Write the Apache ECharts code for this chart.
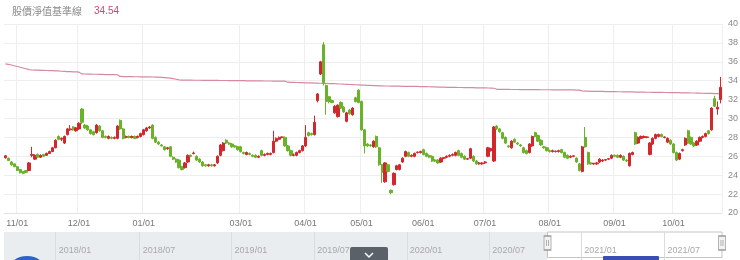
<!DOCTYPE html>
<html><head><meta charset="utf-8">
<script src="https://cdn.jsdelivr.net/npm/echarts@6/dist/echarts.min.js"></script>
<style>html,body{margin:0;padding:0;background:#fff}#c{width:740px;height:260px}</style>
</head><body><div id="c"></div>
<script>
const titleText = '股價淨值基準線';
const titleValue = '34.54';
const mainRange = ['2020-10-27', '2021-10-26'];
const sliderRange = ['2017-09-18', '2021-10-26'];
const closedRanges = [
  ['2017-10-04','2017-10-04'], ['2017-10-09','2017-10-10'],
  ['2018-01-01','2018-01-01'], ['2018-02-12','2018-02-20'], ['2018-02-28','2018-02-28'],
  ['2018-04-04','2018-04-06'], ['2018-06-18','2018-06-18'], ['2018-09-24','2018-09-24'],
  ['2018-10-10','2018-10-10'], ['2018-12-31','2018-12-31'],
  ['2019-01-01','2019-01-01'], ['2019-01-31','2019-02-08'], ['2019-02-28','2019-03-01'],
  ['2019-04-04','2019-04-05'], ['2019-05-01','2019-05-01'], ['2019-06-07','2019-06-07'],
  ['2019-09-13','2019-09-13'], ['2019-10-10','2019-10-11'],
  ['2020-01-01','2020-01-01'], ['2020-01-20','2020-01-29'], ['2020-02-28','2020-02-28'],
  ['2020-04-02','2020-04-03'], ['2020-05-01','2020-05-01'], ['2020-06-25','2020-06-26'],
  ['2020-10-01','2020-10-02'], ['2020-10-09','2020-10-09'],
  ['2020-12-31','2020-12-31'], ['2021-01-01','2021-01-01'], ['2021-02-08','2021-02-16'],
  ['2021-03-01','2021-03-01'], ['2021-04-02','2021-04-05'], ['2021-04-30','2021-04-30'],
  ['2021-06-14','2021-06-14'], ['2021-09-20','2021-09-21'], ['2021-10-11','2021-10-11']
];
const tickMonths = ['11','12','01','03','04','05','06','07','08','09','10'];
const sliderTickMonths = ['01','07'];
const yTicks = {min: 20, max: 40, step: 2};

const opens = [
25.85,25.8,25.4,25.2,24.9,24.6,24.4,24.5,24.5,26.1,
25.7,26.2,25.9,26.2,26.1,26.3,26.5,26.9,28.1,27.8,
27.4,28.3,28.8,29.1,28.7,28.9,31.0,29.3,29.2,28.8,
28.6,28.5,29.2,28.7,28.1,27.9,28.0,27.9,27.9,29.8,
28.9,28.0,28.1,28.0,28.1,28.0,28.1,28.3,28.7,29.0,
29.3,28.0,27.5,27.2,27.0,26.8,27.0,25.9,25.7,25.6,
24.9,24.8,25.4,26.1,26.3,26.0,25.7,25.4,25.1,25.0,
25.1,25.0,25.3,26.1,26.6,27.7,27.4,27.3,27.1,27.0,
27.0,26.4,26.2,26.3,26.1,26.1,25.9,26.6,26.1,26.2,
26.2,26.4,27.6,27.8,28.0,28.0,27.1,26.6,26.1,26.1,
26.4,26.6,27.1,28.5,28.4,28.3,31.9,34.7,37.8,33.5,
32.3,31.9,30.6,30.2,31.7,31.2,29.7,30.9,30.4,32.2,
33.0,31.8,28.8,27.3,27.2,27.0,28.1,26.9,25.1,23.3,
25.1,22.4,23.0,24.6,24.6,25.4,26.0,26.4,26.0,26.0,
26.4,26.4,26.7,26.3,26.1,26.0,25.6,25.6,25.4,25.8,
25.9,26.0,26.1,26.1,26.6,26.3,26.0,25.7,25.8,26.0,
25.5,25.2,25.2,25.3,26.0,26.6,25.5,29.2,28.9,28.5,
28.0,27.1,26.9,27.8,27.4,27.2,26.9,26.6,26.4,27.1,
28.5,28.2,27.7,27.0,26.9,26.6,26.5,26.5,26.5,26.7,
26.4,26.1,25.9,26.0,25.8,25.2,24.4,28.0,26.4,25.3,
25.2,25.2,25.4,25.5,25.6,25.7,25.8,26.1,26.1,25.9,
26.0,25.6,25.0,26.2,28.5,27.4,27.9,28.0,28.0,26.2,
27.3,27.9,28.1,28.3,28.0,27.5,27.7,27.3,26.4,25.7,
26.6,27.2,28.7,28.0,27.4,27.2,27.6,28.0,28.1,28.7,
28.8,32.1,31.0,32.0];
const closes = [
26.05,25.55,25.1,24.9,24.5,24.25,24.2,24.3,25.3,26.2,
26.1,25.9,26.1,26.0,26.3,26.5,26.9,27.7,27.8,27.9,
28.1,28.9,28.9,28.8,29.0,29.5,29.6,29.0,28.8,28.4,
28.3,29.3,28.7,28.0,28.0,28.1,27.9,28.0,29.2,28.9,
27.9,28.1,28.0,28.1,27.9,28.1,28.4,28.8,29.0,29.1,
27.9,27.5,27.3,27.1,26.7,26.9,26.0,25.7,25.4,24.8,
24.6,25.3,26.1,26.0,26.35,25.6,25.4,25.0,25.0,25.1,
25.0,25.1,26.0,27.2,27.4,27.4,27.3,27.0,27.0,26.7,
26.5,26.3,26.4,26.2,26.0,25.9,26.0,26.1,26.2,26.3,
26.3,27.6,27.9,28.0,28.05,27.1,26.6,26.1,26.15,26.4,
26.6,27.1,28.0,28.2,28.3,29.6,32.6,36.0,33.8,31.8,
31.8,31.7,31.3,31.4,31.1,30.7,30.6,30.5,31.1,31.8,
31.7,28.8,27.1,27.1,27.1,27.6,27.0,25.1,24.3,25.3,
24.4,22.15,24.2,25.0,25.1,25.8,26.5,26.0,26.1,26.3,
26.45,26.5,26.2,26.0,25.9,25.5,25.5,25.3,25.8,25.85,
26.0,26.1,26.2,26.4,26.1,25.9,25.7,25.75,26.8,25.5,
25.2,25.3,25.3,25.4,26.9,26.8,29.1,28.9,28.6,27.9,
27.4,27.0,27.6,27.5,27.3,27.1,26.4,26.3,27.3,28.1,
28.1,27.6,27.2,26.9,26.6,26.5,26.6,26.55,26.6,26.4,
25.9,25.8,26.0,26.05,25.4,24.5,27.0,27.0,25.2,25.2,
25.25,25.3,25.7,25.6,25.65,25.75,26.1,26.0,25.9,26.1,
25.6,25.5,26.3,26.4,27.3,28.0,28.1,28.1,28.05,27.4,
27.9,28.3,28.3,28.1,28.05,27.9,27.3,26.4,25.6,26.3,
26.7,27.9,27.4,27.3,27.1,27.6,28.0,28.1,28.4,28.4,
31.1,31.3,31.2,33.3];
const lows = [
25.75,25.5,25.0,24.85,24.45,24.2,24.1,24.25,24.45,25.9,
25.6,25.85,25.85,25.95,26.05,26.25,26.45,26.85,27.7,27.6,
27.3,28.2,28.7,28.7,28.6,28.8,29.4,28.9,28.7,28.3,
28.2,28.4,28.6,27.9,27.9,27.8,27.8,27.8,27.8,28.8,
27.8,27.9,27.9,27.9,27.8,27.9,28.0,28.2,28.6,28.9,
27.8,27.4,27.2,27.0,26.6,26.7,25.9,25.6,25.3,24.7,
24.5,24.7,25.3,25.9,26.2,25.5,25.3,24.9,24.9,24.9,
24.9,24.9,25.2,26.0,26.5,27.3,27.2,26.9,26.9,26.6,
26.4,26.2,26.1,26.1,25.9,25.8,25.8,26.0,26.0,26.1,
26.1,26.3,27.5,27.7,27.9,27.0,26.5,26.0,26.0,26.0,
26.3,26.5,27.0,28.1,28.2,28.2,31.7,34.6,33.5,30.4,
31.6,31.6,30.5,30.1,31.0,30.6,29.6,30.4,30.3,31.7,
31.6,28.7,26.3,27.0,27.0,26.9,26.9,25.0,23.2,23.2,
24.3,22.0,22.9,24.5,24.5,25.3,25.9,25.9,25.9,25.9,
26.3,26.3,26.1,25.9,25.8,25.4,25.4,25.2,25.3,25.7,
25.8,25.9,26.0,26.0,26.0,25.8,25.6,25.6,25.7,25.4,
25.1,25.1,25.1,25.2,25.9,26.5,25.4,28.8,28.5,27.8,
27.3,26.9,26.8,27.4,27.2,27.0,26.3,26.2,26.3,27.0,
28.0,27.5,27.1,26.8,26.5,26.4,26.4,26.4,26.4,26.3,
25.8,25.7,25.8,25.9,25.3,24.4,24.3,26.9,25.1,25.1,
25.1,25.1,25.3,25.4,25.5,25.6,25.7,25.9,25.8,25.8,
25.5,25.4,24.9,26.1,27.2,27.3,27.8,27.9,27.9,26.1,
27.2,27.8,28.0,28.0,27.9,27.4,27.2,26.3,25.5,25.6,
26.5,27.1,27.3,27.2,27.0,27.1,27.5,27.9,28.0,28.3,
28.7,31.2,30.4,31.6];
const highs = [
26.15,25.85,25.5,25.25,25.0,24.65,24.45,24.55,25.4,27.0,
26.2,26.3,26.2,26.25,26.4,26.6,27.0,27.8,28.2,28.0,
28.2,29.0,29.3,29.2,29.1,29.6,31.1,29.4,29.3,28.9,
28.7,29.4,29.3,28.8,28.2,28.2,28.1,28.1,29.3,29.9,
29.0,28.2,28.2,28.2,28.2,28.2,28.5,28.9,29.1,29.2,
29.4,28.1,27.6,27.3,27.1,27.0,27.1,26.0,25.8,25.7,
25.0,25.4,26.2,26.2,26.5,26.1,25.8,25.5,25.2,25.2,
25.2,25.2,26.1,27.3,27.5,27.8,27.5,27.4,27.2,27.1,
27.1,26.5,26.5,26.4,26.2,26.2,26.1,26.7,26.3,26.4,
26.4,28.7,28.0,28.1,28.1,28.1,27.2,26.7,26.3,26.5,
26.7,27.2,29.3,28.6,28.5,30.3,32.7,36.1,38.1,33.6,
32.4,32.0,31.4,31.5,31.8,31.3,30.7,31.0,31.2,32.3,
33.1,31.9,28.9,27.4,27.3,27.7,28.2,27.0,25.2,25.4,
25.2,22.5,24.3,25.1,25.2,25.9,26.6,26.5,26.2,26.4,
26.5,26.6,26.8,26.4,26.2,26.1,25.7,25.7,25.9,25.9,
26.1,26.2,26.3,26.5,26.7,26.4,26.1,25.8,26.9,26.1,
25.6,25.4,25.4,25.5,27.0,26.9,29.2,29.3,29.0,28.6,
28.1,27.2,27.7,27.9,27.5,27.3,27.0,26.7,27.4,28.2,
28.6,28.3,27.8,27.1,27.0,26.7,26.7,26.6,26.7,26.8,
26.5,26.2,26.1,26.1,25.9,25.3,27.1,29.1,26.5,25.4,
25.3,25.4,25.8,25.7,25.7,25.8,26.2,26.2,26.2,26.2,
26.1,25.7,26.4,26.5,28.6,28.1,28.2,28.2,28.1,27.5,
28.0,28.4,28.4,28.4,28.1,28.0,27.8,27.4,26.5,26.4,
26.8,28.0,28.8,28.1,27.5,27.7,28.1,28.2,28.5,28.8,
31.2,32.4,31.8,34.4];
const baseLine = [
35.78,35.72,35.66,35.58,35.5,35.42,35.34,35.26,35.18,35.13,
35.12,35.11,35.1,35.09,35.08,35.07,35.06,35.05,35.03,35.0,
34.98,34.96,34.95,34.94,34.93,34.9,34.72,34.71,34.7,34.69,
34.68,34.68,34.67,34.66,34.65,34.65,34.64,34.64,34.63,34.45,
34.44,34.44,34.43,34.43,34.42,34.42,34.41,34.41,34.4,34.4,
34.39,34.38,34.37,34.35,34.33,34.3,34.27,34.22,34.15,34.08,
34.07,34.07,34.06,34.06,34.05,34.05,34.05,34.04,34.04,34.04,
34.03,34.03,34.03,34.02,34.02,34.02,34.01,34.01,34.01,34.0,
34.0,34.0,33.99,33.99,33.99,33.98,33.98,33.98,33.97,33.97,
33.97,33.96,33.96,33.95,33.95,33.95,33.84,33.83,33.82,33.81,
33.8,33.79,33.78,33.77,33.76,33.75,33.74,33.73,33.72,33.71,
33.7,33.69,33.68,33.66,33.65,33.63,33.62,33.6,33.59,33.57,
33.56,33.54,33.53,33.51,33.5,33.48,33.47,33.45,33.45,33.44,
33.44,33.43,33.43,33.42,33.42,33.41,33.41,33.4,33.4,33.39,
33.39,33.38,33.38,33.37,33.36,33.35,33.34,33.33,33.32,33.31,
33.3,33.3,33.29,33.29,33.28,33.28,33.27,33.27,33.26,33.26,
33.25,33.25,33.24,33.24,33.23,33.22,33.2,33.09,33.09,33.08,
33.08,33.08,33.07,33.07,33.07,33.06,33.06,33.06,33.05,33.05,
33.05,33.05,33.04,33.04,33.04,33.04,33.03,33.03,33.03,33.03,
33.02,33.02,33.02,33.02,33.01,33.0,32.92,32.9,32.89,32.88,
32.87,32.87,32.86,32.86,32.85,32.85,32.84,32.84,32.83,32.83,
32.82,32.82,32.81,32.81,32.8,32.8,32.79,32.79,32.78,32.78,
32.77,32.77,32.76,32.76,32.75,32.75,32.74,32.74,32.73,32.73,
32.72,32.72,32.71,32.7,32.7,32.69,32.68,32.67,32.66,32.66,
32.65,32.64,32.63,32.62];

function tradingDays(from, to) {
  const out = [];
  const end = new Date(to + 'T00:00:00Z');
  const closed = closedRanges.map(r => [new Date(r[0] + 'T00:00:00Z'), new Date(r[1] + 'T00:00:00Z')]);
  for (let d = new Date(from + 'T00:00:00Z'); d <= end; d = new Date(d.getTime() + 86400000)) {
    const wd = d.getUTCDay();
    if (wd === 0 || wd === 6) continue;
    if (closed.some(r => d >= r[0] && d <= r[1])) continue;
    out.push(d.toISOString().slice(0, 10).replace(/-/g, '/'));
  }
  return out;
}
function monthStarts(days, months) {
  const set = new Set();
  for (let i = 1; i < days.length; i++) {
    const m = days[i].slice(5, 7);
    if (m !== days[i - 1].slice(5, 7) && months.includes(m)) set.add(i);
  }
  return set;
}
const mainDays = tradingDays(mainRange[0], mainRange[1]);
const sliderDays = tradingDays(sliderRange[0], sliderRange[1]);
const mainTicks = monthStarts(mainDays, tickMonths);
const sliderTicks = monthStarts(sliderDays, sliderTickMonths);
const candles = opens.map((o, i) => [o, closes[i], lows[i], highs[i]]);

const RED = '#d0282d', GREEN = '#6ab22a';
const font = '"Liberation Sans", Arial, "Noto Sans CJK TC", sans-serif';
const chart = echarts.init(document.getElementById('c'), null, {renderer: 'canvas'});
chart.setOption({
  animation: false,
  backgroundColor: '#fff',
  textStyle: {fontFamily: font},
  grid: [
    {left: 4, right: 18, top: 24, bottom: 47, containLabel: false, outerBoundsMode: 'none'},
    {left: 4, right: 18, top: 232, height: 28, containLabel: false, outerBoundsMode: 'none'}
  ],
  xAxis: [
    {
      type: 'category', data: mainDays, gridIndex: 0, boundaryGap: true,
      axisLine: {show: true, lineStyle: {color: '#e3e3e3'}},
      axisTick: {show: false},
      axisLabel: {
        color: '#777', fontSize: 9, margin: 6,
        interval: (i) => mainTicks.has(i),
        formatter: (v) => v.slice(5, 7) + '/01'
      },
      splitLine: {show: true, interval: (i) => mainTicks.has(i), lineStyle: {color: '#eeeeee', width: 1}}
    },
    {
      type: 'category', data: sliderDays, gridIndex: 1, boundaryGap: false, position: 'top', z: 5,
      axisLine: {show: true, lineStyle: {color: '#d6d6d6'}},
      axisTick: {show: false},
      axisLabel: {
        inside: true, color: '#a8a8a8', fontSize: 9, margin: 14, align: 'left', padding: [0, 0, 0, 3],
        interval: (i) => sliderTicks.has(i),
        formatter: (v) => v.slice(0, 7)
      },
      splitLine: {show: true, interval: (i) => sliderTicks.has(i), lineStyle: {color: '#d9dde1', width: 1}}
    }
  ],
  yAxis: [
    {
      type: 'value', gridIndex: 0, position: 'right', min: yTicks.min, max: yTicks.max, interval: yTicks.step,
      axisLine: {show: false}, axisTick: {show: false},
      axisLabel: {color: '#888', fontSize: 9, margin: 6},
      splitLine: {show: true, lineStyle: {color: '#eeeeee', width: 1}}
    },
    {type: 'value', gridIndex: 1, min: 0, max: 28, show: false}
  ],
  series: [
    {
      type: 'line', name: titleText, data: baseLine, xAxisIndex: 0, yAxisIndex: 0,
      symbol: 'none', lineStyle: {color: '#d58aa0', width: 1.2}, z: 2
    },
    {
      type: 'candlestick', data: candles, xAxisIndex: 0, yAxisIndex: 0, barWidth: '92%', z: 3,
      itemStyle: {color: RED, color0: GREEN, borderColor: RED, borderColor0: GREEN, borderWidth: 1}
    },
    {
      type: 'line', data: [], xAxisIndex: 1, yAxisIndex: 1, silent: true,
      markArea: {
        silent: true,
        data: [
          [{xAxis: sliderDays[0], yAxis: 0, itemStyle: {color: 'rgba(160,172,186,0.22)'}}, {xAxis: mainDays[0], yAxis: 28}],
          [{xAxis: mainDays[0], yAxis: 2.5, itemStyle: {color: 'rgba(255,255,255,0)', borderColor: '#c4c4c4', borderWidth: 1}}, {xAxis: mainDays[mainDays.length - 1], yAxis: 28}]
        ]
      },
      markPoint: {
        silent: true,
        symbol: 'path://M0,0 L7,0 L7,14 L0,14 Z M2.5,4 L2.5,10 M4.5,4 L4.5,10',
        symbolSize: [7, 14],
        itemStyle: {color: '#f2f2f2', borderColor: '#999', borderWidth: 1},
        label: {show: false},
        data: [{coord: [mainDays[0], 17]}, {coord: [mainDays[mainDays.length - 1], 17]}]
      }
    }
  ],
  graphic: [
    {type: 'text', left: 12, top: 6, style: {text: titleText, fill: '#8a8a8a', font: '10px "Noto Sans CJK TC", sans-serif'}},
    {type: 'text', left: 94, top: 6, style: {text: titleValue, fill: '#d0457c', font: '10px ' + font}},
    {type: 'ellipse', shape: {cx: 27, cy: 268, rx: 17, ry: 12}, style: {fill: '#2d63c8'}, z: 20},
    {type: 'rect', shape: {x: 350, y: 247, width: 38, height: 20, r: 2}, style: {fill: '#5b6169'}, z: 20},
    {type: 'polyline', shape: {points: [[365, 253], [369, 257], [373, 253]]}, style: {stroke: '#fff', lineWidth: 1.5, fill: null}, z: 21},
    {type: 'rect', shape: {x: 603, y: 256, width: 56, height: 10, r: 1}, style: {fill: '#3a4db2'}, z: 20}
  ]
});
</script>
</body></html>
